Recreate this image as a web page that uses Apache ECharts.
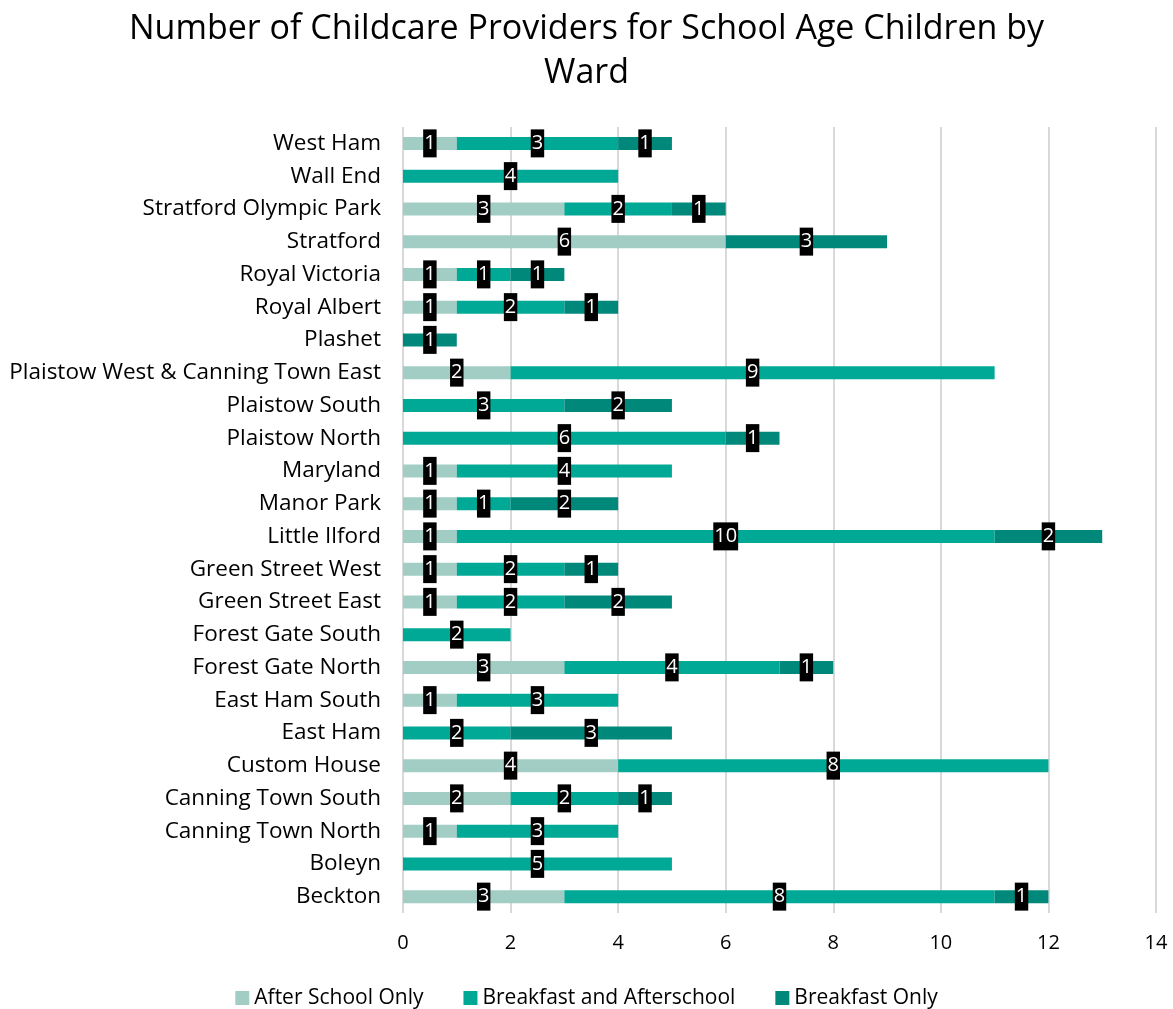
<!DOCTYPE html>
<html>
<head>
<meta charset="utf-8">
<script src="https://cdn.jsdelivr.net/npm/echarts@6/dist/echarts.min.js"></script>
<style>
  html, body { margin: 0; padding: 0; background: #ffffff; }
  #chart { width: 1173px; height: 1009px; }
</style>
</head>
<body>
<div id="chart"></div>
<script>
// Wards, listed bottom to top on the category axis
const wards = [
  'Beckton', 'Boleyn', 'Canning Town North', 'Canning Town South', 'Custom House',
  'East Ham', 'East Ham South', 'Forest Gate North', 'Forest Gate South',
  'Green Street East', 'Green Street West', 'Little Ilford', 'Manor Park', 'Maryland',
  'Plaistow North', 'Plaistow South', 'Plaistow West & Canning Town East', 'Plashet',
  'Royal Albert', 'Royal Victoria', 'Stratford', 'Stratford Olympic Park', 'Wall End', 'West Ham'
];

// Provider counts per ward (null = none of that type)
const afterSchoolOnly = [3, null, 1, 2, 4, null, 1, 3, null, 1, 1, 1, 1, 1, null, null, 2, null, 1, 1, 6, 3, null, 1];
const breakfastAndAfterschool = [8, 5, 3, 2, 8, 2, 3, 4, 2, 2, 2, 10, 1, 4, 6, 3, 9, null, 2, 1, null, 2, 4, 3];
const breakfastOnly = [1, null, null, 1, null, 3, null, 1, null, 2, 1, 2, 2, null, 1, 2, null, 1, 1, 1, 3, 1, null, 1];

const xTicks = { min: 0, max: 14, interval: 2 };

const FONT = '"Open Sans", "Noto Sans", sans-serif';

const valueLabel = {
  show: true,
  position: 'inside',
  color: '#ffffff',
  backgroundColor: '#000000',
  fontFamily: FONT,
  fontSize: 20,
  lineHeight: 28,
  padding: [0, 1, 0, 1]
};

function stackSeries(name, data, color) {
  return {
    name: name,
    type: 'bar',
    stack: 'total',
    data: data,
    barWidth: 13,
    itemStyle: { color: color },
    label: valueLabel,
    emphasis: { disabled: true }
  };
}

const chart = echarts.init(document.getElementById('chart'), null, { renderer: 'canvas' });
chart.setOption({
  animation: false,
  backgroundColor: '#ffffff',
  title: {
    text: 'Number of Childcare Providers for School Age Children by\nWard',
    left: 'center',
    top: 2,
    textStyle: {
      fontFamily: FONT,
      fontWeight: 'normal',
      fontSize: 34,
      lineHeight: 44,
      color: '#000000'
    }
  },
  legend: {
    top: 980,
    left: 'center',
    itemWidth: 14,
    itemHeight: 14,
    itemGap: 40,
    icon: 'rect',
    textStyle: { fontFamily: FONT, fontSize: 21, lineHeight: 26, color: '#000000' },
    data: ['After School Only', 'Breakfast and Afterschool', 'Breakfast Only']
  },
  grid: { left: 403, right: 17, top: 127, bottom: 96, containLabel: false },
  xAxis: {
    type: 'value',
    min: xTicks.min,
    max: xTicks.max,
    interval: xTicks.interval,
    axisLine: { show: false },
    axisTick: { show: false },
    axisLabel: { fontFamily: FONT, fontSize: 20, color: '#000000', margin: 20 },
    splitLine: { show: true, lineStyle: { color: '#d9d9d9', width: 2 } }
  },
  yAxis: {
    type: 'category',
    data: wards,
    axisLine: { show: false },
    axisTick: { show: false },
    axisLabel: { fontFamily: FONT, fontSize: 22.5, color: '#000000', margin: 22 }
  },
  series: [
    stackSeries('After School Only', afterSchoolOnly, '#a2cdc4'),
    stackSeries('Breakfast and Afterschool', breakfastAndAfterschool, '#00a896'),
    stackSeries('Breakfast Only', breakfastOnly, '#00897b')
  ]
});
</script>
</body>
</html>
